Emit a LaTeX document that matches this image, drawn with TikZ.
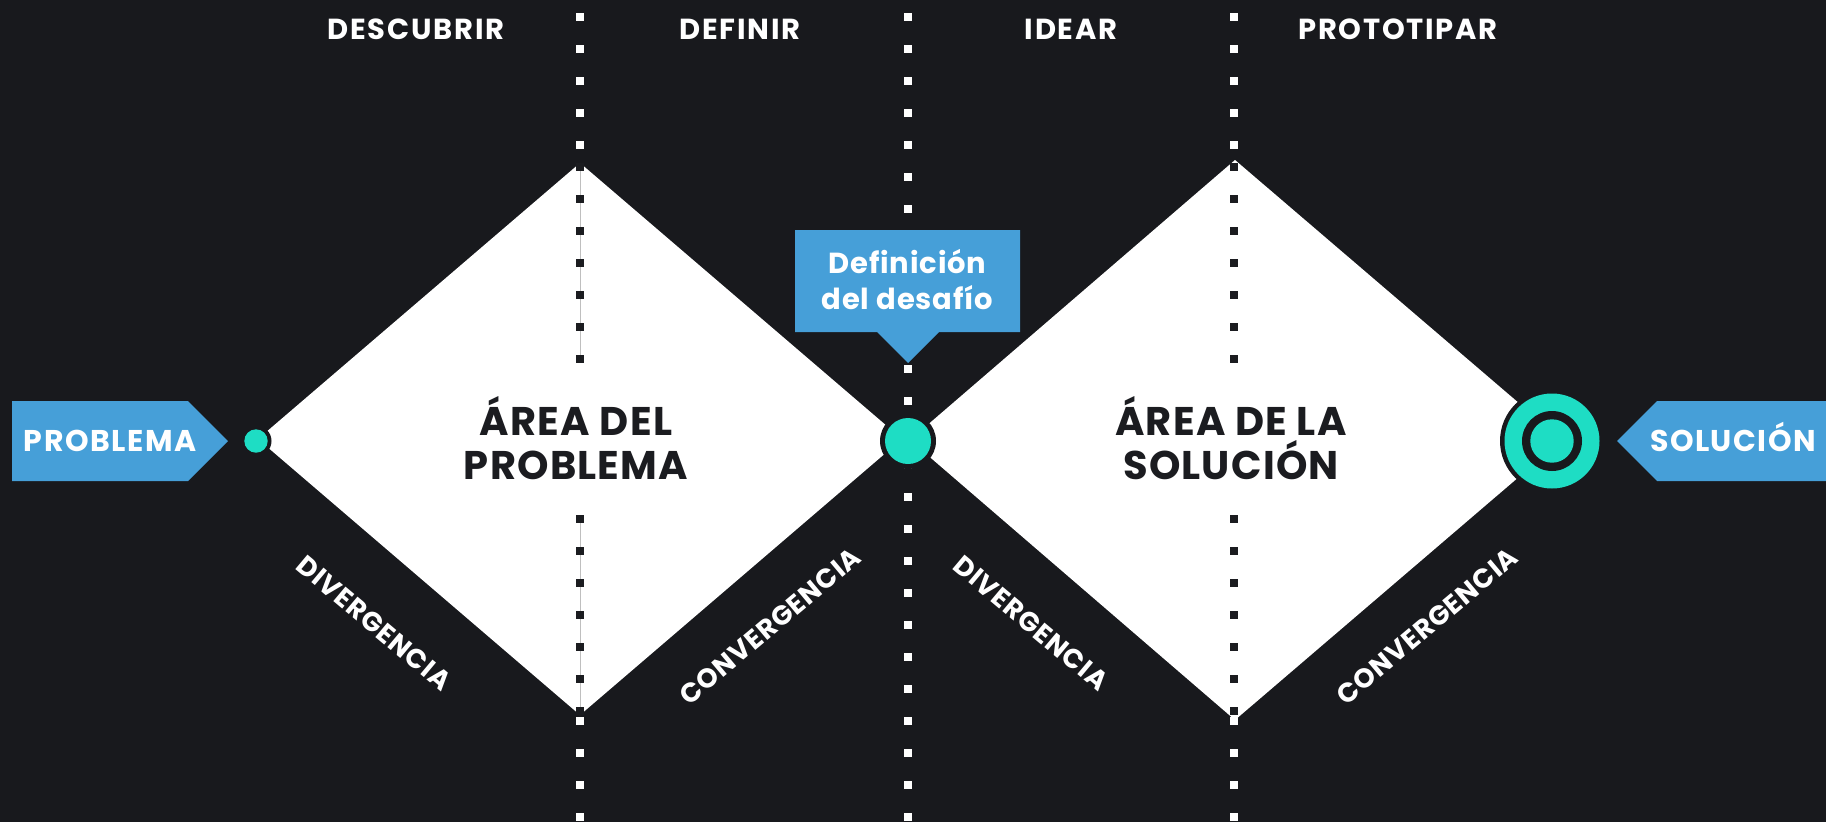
\documentclass[tikz,border=0pt]{standalone}
\usepackage{fontspec}
\setmainfont{Poppins}
\usetikzlibrary{positioning}
\definecolor{fondo}{HTML}{18191D}
\definecolor{azul}{HTML}{469FD8}
\definecolor{turquesa}{HTML}{1EDDC4}
\definecolor{tinta}{HTML}{1B1C20}
\tikzset{
  etapa/.style={text=white, font=\bfseries\fontsize{29}{32}\selectfont\addfontfeatures{LetterSpace=6}},
  area/.style={text=tinta, align=center, font=\bfseries\fontsize{40}{44}\selectfont\addfontfeatures{LetterSpace=3}},
  fase/.style={text=white, font=\bfseries\fontsize{27}{30}\selectfont\addfontfeatures{LetterSpace=3}},
  etiqueta/.style={text=white, text height=21pt, text depth=0pt, font=\bfseries\fontsize{30}{32}\selectfont\addfontfeatures{LetterSpace=5}},
  reto/.style={text=white, align=center, font=\bfseries\fontsize{29}{36}\selectfont\addfontfeatures{LetterSpace=3}},
}
\begin{document}
\begin{tikzpicture}[x=1pt,y=-1pt]
\fill[fondo] (0,0) rectangle (1826,822);
\useasboundingbox (0,0) rectangle (1826,822);
% lineas punteadas
\foreach \x in {580,908,1234}
  \foreach \k in {0,...,25}
    \fill[white] (\x-4,12.7+32*\k) rectangle ++(8,8);
% rombos
\coordinate (izq1) at (258,439);
\coordinate (sup1) at (580,163);
\coordinate (der1) at (902,439);
\coordinate (inf1) at (580,715);
\coordinate (izq2) at (910,440);
\coordinate (sup2) at (1235,160);
\coordinate (der2) at (1562,440);
\coordinate (inf2) at (1235,720);
\fill[white] (izq1) -- (sup1) -- (der1) -- (inf1) -- cycle;
\fill[white] (izq2) -- (sup2) -- (der2) -- (inf2) -- cycle;
\draw[gray!50, line width=0.8pt] (580,167) -- (580,359) (580,519) -- (580,711);
\foreach \x in {580,1234}
  \foreach \k in {0,...,6} {
    \fill[tinta] (\x-4,162.7+32*\k) rectangle ++(8,8);
    \fill[tinta] (\x-4,514.7+32*\k) rectangle ++(8,8);
  }
% fases
\node[etapa] (descubrir) at (416,29) {DESCUBRIR};
\node[etapa] (definir) at (740,29) {DEFINIR};
\node[etapa] (idear) at (1071,29) {IDEAR};
\node[etapa] (prototipar) at (1398,29) {PROTOTIPAR};
% areas
\node[area] (problema-area) at (576,438) {ÁREA DEL\\PROBLEMA};
\node[area] (solucion-area) at (1231,438) {ÁREA DE LA\\SOLUCIÓN};
\node[fase, rotate=-40] (div1) at (374,623) {DIVERGENCIA};
\node[fase, rotate=40] (conv1) at (770,626) {CONVERGENCIA};
\node[fase, rotate=-40] (div2) at (1031,623) {DIVERGENCIA};
\node[fase, rotate=40] (conv2) at (1427,626) {CONVERGENCIA};
% definicion del desafio
\fill[azul] (795,230) -- (1020,230) -- (1020,332) -- (939,332) -- (908,363)
  -- (877,332) -- (795,332) -- cycle;
\node[reto] (desafio) at (907.5,280) {Definición\\del desafío};
% circulos
\fill[fondo] (256,441) circle (15.5);
\fill[turquesa] (256,441) circle (11.7);
\fill[fondo] (908,441) circle (28);
\fill[turquesa] (908,441) circle (23);
\fill[fondo] (1552,441) circle (52);
\fill[turquesa] (1552,441) circle (47.5);
\fill[fondo] (1552,441) circle (30);
\fill[turquesa] (1552,441) circle (21.7);
% flechas
\fill[azul] (12,401) -- (188,401) -- (228,441) -- (188,481) -- (12,481) -- cycle;
\node[etiqueta] (problema) at (110,441) {PROBLEMA};
\fill[azul] (1826,401) -- (1657,401) -- (1617,441) -- (1657,481) -- (1826,481) -- cycle;
\node[etiqueta] (solucion) at (1733,441) {SOLUCIÓN};
\end{tikzpicture}
\end{document}
